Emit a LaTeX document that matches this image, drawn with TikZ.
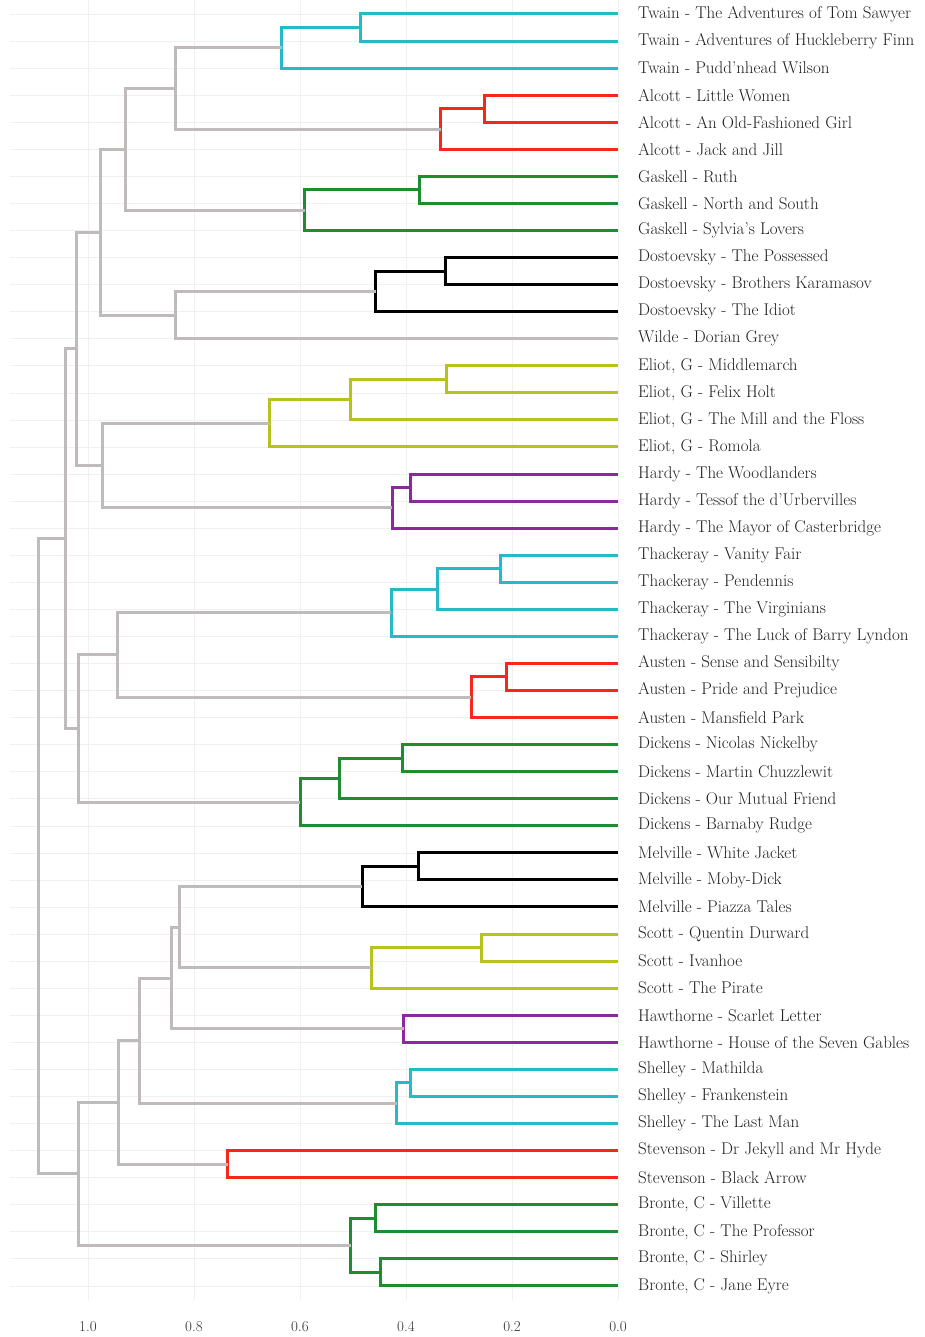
\documentclass[tikz,border=0pt]{standalone}
\usepackage{tikz}
\usetikzlibrary{calc}
\definecolor{tuerkis}{RGB}{38,186,198}
\definecolor{rot}{RGB}{250,38,26}
\definecolor{gruen}{RGB}{30,140,48}
\definecolor{oliv}{RGB}{184,194,28}
\definecolor{lila}{RGB}{140,40,158}
\definecolor{grau}{RGB}{192,187,187}
\definecolor{schwarz}{RGB}{0,0,0}
\begin{document}
\begin{tikzpicture}[x=1pt,y=-1pt,
  ast/.style={line width=3pt},
  gitter/.style={black!6,line width=0.6pt},
  titel/.style={anchor=west,inner sep=0pt,text=black!88,font=\fontsize{17}{19}\selectfont},
  achse/.style={inner sep=0pt,text=black!80,font=\fontsize{15}{17}\selectfont}]
\useasboundingbox (0,0) rectangle (925,1337);
%Zeilenabstand der Blaetter, x-Position zu Hoehe h: x = 618 - 530*h
  \pgfmathsetmacro{\dy}{27.06}
%Gitter
\foreach \i in {0,...,47}{
  \draw[gitter] (10,14+\i*\dy) -- (618,14+\i*\dy);
}
\foreach \h in {1.0,0.8,0.6,0.4,0.2,0.0}{
  \draw[gitter] ({618-530*\h},0) -- ({618-530*\h},1300);
}
%Blaetter mit Titeln
\foreach \name [count=\i from 0] in {{Twain - The Adventures of Tom Sawyer},{Twain - Adventures of Huckleberry Finn},{Twain - Pudd'nhead Wilson},
  {Alcott - Little Women},{Alcott - An Old-Fashioned Girl},{Alcott - Jack and Jill},
  {Gaskell - Ruth},{Gaskell - North and South},{Gaskell - Sylvia's Lovers},
  {Dostoevsky - The Possessed},{Dostoevsky - Brothers Karamasov},{Dostoevsky - The Idiot},
  {Wilde - Dorian Grey},
  {Eliot, G - Middlemarch},{Eliot, G - Felix Holt},{Eliot, G - The Mill and the Floss},{Eliot, G - Romola},
  {Hardy - The Woodlanders},{Hardy - Tessof the d'Urbervilles},{Hardy - The Mayor of Casterbridge},
  {Thackeray - Vanity Fair},{Thackeray - Pendennis},{Thackeray - The Virginians},{Thackeray - The Luck of Barry Lyndon},
  {Austen - Sense and Sensibilty},{Austen - Pride and Prejudice},{Austen - Mansfield Park},
  {Dickens - Nicolas Nickelby},{Dickens - Martin Chuzzlewit},{Dickens - Our Mutual Friend},{Dickens - Barnaby Rudge},
  {Melville - White Jacket},{Melville - Moby-Dick},{Melville - Piazza Tales},
  {Scott - Quentin Durward},{Scott - Ivanhoe},{Scott - The Pirate},
  {Hawthorne - Scarlet Letter},{Hawthorne - House of the Seven Gables},
  {Shelley - Mathilda},{Shelley - Frankenstein},{Shelley - The Last Man},
  {Stevenson - Dr Jekyll and Mr Hyde},{Stevenson - Black Arrow},
  {Bronte, C - Villette},{Bronte, C - The Professor},{Bronte, C - Shirley},{Bronte, C - Jane Eyre}}{
  \pgfmathsetmacro{\y}{14+\i*\dy}
  \coordinate (b\i) at (618,\y);
  \node[titel] (t\i) at (638,\y) {\name};
}
%Verschmelzungen: Name/Hoehe/Kind1/Kind2/Farbe (von unten nach oben)
\foreach \m/\h/\a/\b/\c in {twA/0.485/b0/b1/tuerkis, twB/0.634/twA/b2/tuerkis,
  alA/0.251/b3/b4/rot, alB/0.334/alA/b5/rot, ta/0.834/twB/alB/grau,
  gaA/0.375/b6/b7/gruen, gaB/0.591/gaA/b8/gruen, tag/0.930/ta/gaB/grau,
  doA/0.326/b9/b10/schwarz, doB/0.457/doA/b11/schwarz, dw/0.834/doB/b12/grau,
  tagdw/0.977/tag/dw/grau,
  elA/0.323/b13/b14/oliv, elB/0.504/elA/b15/oliv, elC/0.657/elB/b16/oliv,
  haA/0.392/b17/b18/lila, haB/0.426/haA/b19/lila, eh/0.972/elC/haB/grau,
  obenA/1.021/tagdw/eh/grau,
  thA/0.221/b20/b21/tuerkis, thB/0.340/thA/b22/tuerkis, thC/0.428/thB/b23/tuerkis,
  auA/0.211/b24/b25/rot, auB/0.277/auA/b26/rot, tha/0.945/thC/auB/grau,
  diA/0.406/b27/b28/gruen, diB/0.525/diA/b29/gruen, diC/0.600/diB/b30/gruen,
  thad/1.017/tha/diC/grau, oben/1.043/obenA/thad/grau,
  meA/0.377/b31/b32/schwarz, meB/0.483/meA/b33/schwarz,
  scA/0.257/b34/b35/oliv, scB/0.466/scA/b36/oliv, ms/0.828/meB/scB/grau,
  hw/0.404/b37/b38/lila, msh/0.843/ms/hw/grau,
  shA/0.391/b39/b40/tuerkis, shB/0.417/shA/b41/tuerkis, mshs/0.902/msh/shB/grau,
  st/0.736/b42/b43/rot, msst/0.943/mshs/st/grau,
  brA/0.457/b44/b45/gruen, brB/0.449/b46/b47/gruen, brC/0.504/brA/brB/gruen,
  unten/1.017/msst/brC/grau, wurzel/1.094/oben/unten/grau}{
  \pgfmathsetmacro{\xm}{618-530*\h}
  \path (\a) -- (\b) coordinate[midway] (mitte);
  \coordinate (\m) at (perpendicular cs: horizontal line through={(mitte)}, vertical line through={(\xm,0)});
  \draw[ast,\c] (\a) -| (\m) |- (\b);
}
%Achse
\foreach \h/\n in {1.0/a10,0.8/a08,0.6/a06,0.4/a04,0.2/a02,0.0/a00}{
  \node[achse] (\n) at ({618-530*\h},1327) {\h};
}
\end{tikzpicture}
\end{document}
